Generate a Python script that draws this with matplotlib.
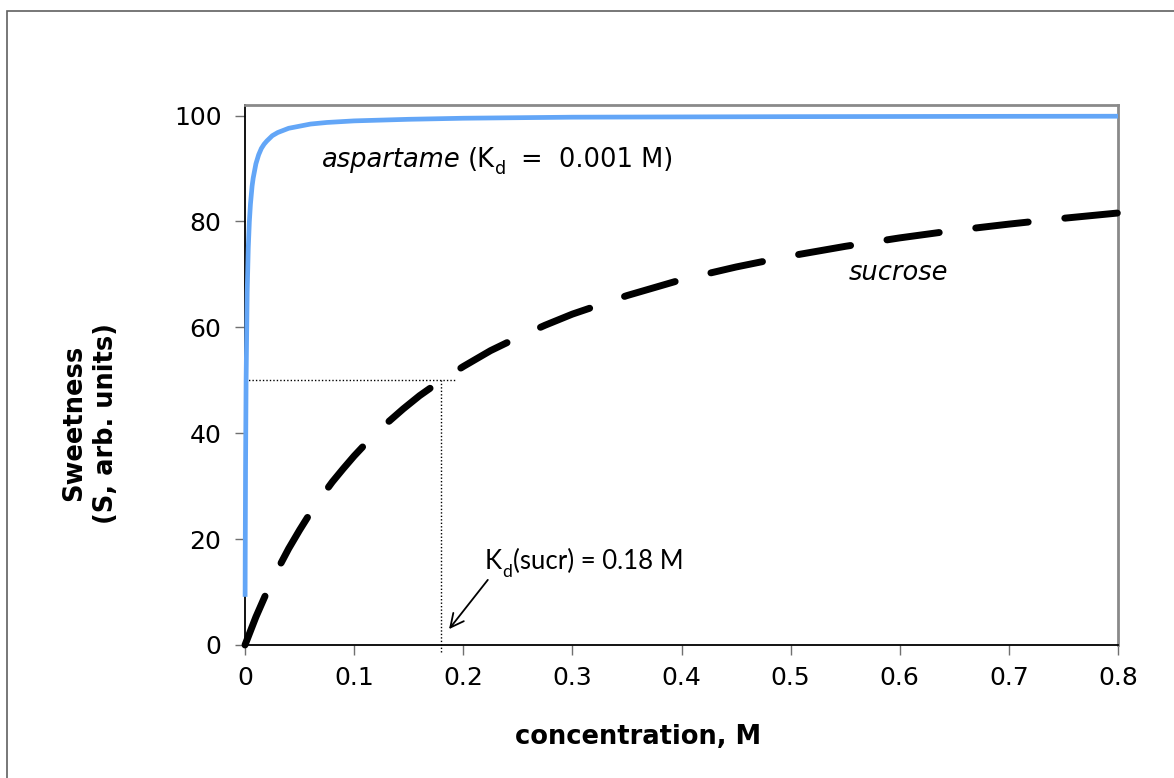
import matplotlib
matplotlib.use("Agg")
import matplotlib.pyplot as plt
from matplotlib.patches import Rectangle

plt.rcParams["font.family"] = ["DejaVu Sans"]

# Data
aspartame_conc = [0.0001, 0.0002, 0.0005, 0.001, 0.002, 0.003, 0.004, 0.005, 0.0065, 0.0075,
                  0.01, 0.0125, 0.015, 0.0175, 0.02, 0.025, 0.03, 0.035, 0.04, 0.05, 0.06,
                  0.075, 0.1, 0.15, 0.2, 0.3, 0.4, 0.5, 0.6, 0.7, 0.8]
aspartame_sweet = [9.1, 16.7, 33.3, 50.0, 66.7, 75.0, 80.0, 83.3, 86.7, 88.2,
                   90.9, 92.6, 93.8, 94.6, 95.2, 96.2, 96.8, 97.2, 97.6, 98.0, 98.4,
                   98.7, 99.0, 99.3, 99.5, 99.7, 99.75, 99.8, 99.83, 99.86, 99.88]
sucrose_conc = [0, 0.01, 0.02, 0.03, 0.04, 0.05, 0.06, 0.07, 0.08, 0.09, 0.1, 0.115, 0.13,
                0.145, 0.16, 0.18, 0.2, 0.225, 0.25, 0.275, 0.3, 0.35, 0.4, 0.45, 0.5,
                0.55, 0.6, 0.65, 0.7, 0.75, 0.8]
sucrose_sweet = [0, 5.3, 10.0, 14.3, 18.2, 21.7, 25.0, 28.0, 30.8, 33.3, 35.7, 39.0, 41.9,
                 44.6, 47.1, 50.0, 52.6, 55.6, 58.1, 60.4, 62.5, 66.0, 69.0, 71.4, 73.5,
                 75.3, 76.9, 78.3, 79.5, 80.6, 81.6]
kd_sucrose = 0.18
half_sweet = 50
x_ticks = [0, 0.1, 0.2, 0.3, 0.4, 0.5, 0.6, 0.7, 0.8]
x_tick_labels = ["0", "0.1", "0.2", "0.3", "0.4", "0.5", "0.6", "0.7", "0.8"]
y_ticks = [0, 20, 40, 60, 80, 100]

MAIN = "DejaVu Sans"
NOTE = "Lato"
FS = 18
FS_TXT = 18.5

fig = plt.figure(figsize=(11.74, 7.78), dpi=100)
ax = fig.add_axes([245/1174, 1 - 645/778, (1118-245)/1174, (645-105)/778])

# figure border
fig.patches.append(Rectangle((7/1174, -0.1), 1.2, 1 - 11/778 + 0.1, transform=fig.transFigure,
                             fill=False, edgecolor="#606060", linewidth=1.2))

# dotted guide lines
ax.plot([0, 0.192], [half_sweet, half_sweet], color="black", linestyle=(0, (1, 1.5)), linewidth=1.0,
        clip_on=False)
ax.plot([kd_sucrose, kd_sucrose], [-1.3, half_sweet], color="black", linestyle=(0, (1, 1.5)),
        linewidth=1.0, clip_on=False)

ax.plot(aspartame_conc, aspartame_sweet, color="#63a6f7", linewidth=3.4, solid_capstyle="butt",
        solid_joinstyle="round", clip_on=False, zorder=3)
ax.plot(sucrose_conc, sucrose_sweet, color="black", linewidth=5.0, linestyle=(0, (7.6, 5.3)),
        dash_capstyle="round", zorder=3, clip_on=False)

ax.set_xlim(0, 0.8)
ax.set_ylim(0, 102)
ax.set_xticks(x_ticks)
ax.set_xticklabels(x_tick_labels, family=MAIN)
ax.set_yticks(y_ticks)
ax.set_yticklabels([str(v) for v in y_ticks], family=MAIN)
ax.tick_params(axis="both", direction="out", length=7, width=1, color="#707070",
               labelsize=FS, pad=8)
ax.tick_params(axis="y", pad=10)
for s in ["left", "bottom"]:
    ax.spines[s].set_color("black")
    ax.spines[s].set_linewidth(1.3)
for s in ["top", "right"]:
    ax.spines[s].set_color("#8a8a8a")
    ax.spines[s].set_linewidth(2)

# aspartame label built from pieces (italic name, subscript d)
a1 = ax.text(0.0706, 90.2, "aspartame", fontsize=FS_TXT, family=MAIN, style="italic",
             va="baseline", ha="left")
a2 = ax.annotate("(K", xy=(1, 0), xycoords=(a1, a1), xytext=(5, 0), textcoords="offset points",
                 fontsize=FS_TXT, family=MAIN, va="bottom", ha="left")
a3 = ax.annotate("d", xy=(1, 0), xycoords=(a2, a2), xytext=(0.5, -3.5), textcoords="offset points",
                 fontsize=FS_TXT * 0.68, family=MAIN, va="bottom", ha="left")
a4 = ax.annotate("=  0.001 M)", xy=(1, 0), xycoords=(a3, a2), xytext=(10, 0),
                 textcoords="offset points", fontsize=FS_TXT, family=MAIN, va="bottom", ha="left")

ax.text(0.553, 70.2, "sucrose", fontsize=FS_TXT, family=MAIN, style="italic", va="center", ha="left")

# Kd annotation with arrow
ax.annotate("", xy=(0.187, 3.0), xytext=(0.2225, 12.3),
            arrowprops=dict(arrowstyle="->", color="black", lw=1.3, mutation_scale=24,
                            shrinkA=0, shrinkB=0))
k1 = ax.text(0.2195, 14.3, "K", fontsize=18.5, family=NOTE, va="baseline", ha="left")
k2 = ax.annotate("d", xy=(1, 0), xycoords=(k1, k1), xytext=(0.3, -4), textcoords="offset points",
                 fontsize=18.5 * 0.68, family=NOTE, va="bottom", ha="left")
k3 = ax.annotate("(sucr) = 0.18 M", xy=(1, 0), xycoords=(k2, k1), xytext=(0.5, 0),
                 textcoords="offset points", fontsize=18.5, family=NOTE, va="bottom", ha="left")

fig.text(638/1174, 1 - 737/778, "concentration, M", fontsize=18.5, family=MAIN,
         fontweight="bold", ha="center", va="center")
fig.text(90/1174, 1 - 423/778, "Sweetness\n(S, arb. units)", fontsize=18.5, family=MAIN,
         fontweight="bold", ha="center", va="center", rotation=90, linespacing=1.3)

fig.savefig("out.png", dpi=100)
